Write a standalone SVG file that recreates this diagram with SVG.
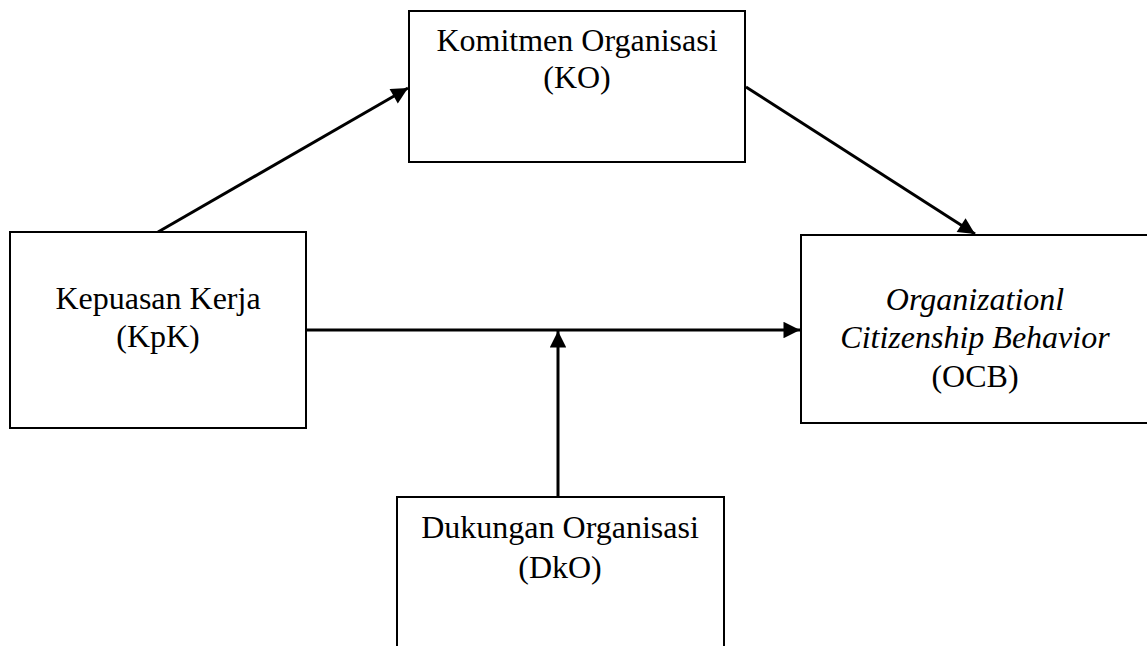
<svg xmlns="http://www.w3.org/2000/svg" width="1147" height="646" viewBox="0 0 1147 646">
<style>
.box{fill:#fff;stroke:#000;stroke-width:2}
.t{font-family:"Liberation Serif","Times New Roman",serif;font-size:32px;fill:#000;text-anchor:middle}
.i{font-style:italic}
.c{stroke:#000;stroke-width:3;fill:none;marker-end:url(#ah)}
</style>
<defs>
<marker id="ah" viewBox="0 0 10 10" refX="10" refY="5" markerWidth="6" markerHeight="5.5" markerUnits="strokeWidth" orient="auto">
<path d="M0,0 L10,5 L0,10 z" fill="#000"/>
</marker>
</defs>
<rect width="1147" height="646" fill="#fff"/>
<g id="connectors">
<line class="c" x1="158" y1="232" x2="408" y2="88"/>
<line class="c" x1="746" y1="87" x2="975" y2="234"/>
<line class="c" x1="306" y1="330" x2="800" y2="330"/>
<line class="c" x1="558" y1="497" x2="558" y2="331"/>
</g>
<g id="node-ko">
<rect class="box" x="409" y="11" width="336" height="151"/>
<text class="t" x="577" y="51">Komitmen Organisasi</text>
<text class="t" x="577" y="88">(KO)</text>
</g>
<g id="node-kpk">
<rect class="box" x="10" y="232" width="296" height="196"/>
<text class="t" x="158" y="309">Kepuasan Kerja</text>
<text class="t" x="158" y="347">(KpK)</text>
</g>
<g id="node-ocb">
<rect class="box" x="801" y="235" width="360" height="188"/>
<text class="t i" x="975" y="310">Organizationl</text>
<text class="t i" x="975" y="348">Citizenship Behavior</text>
<text class="t" x="975" y="387">(OCB)</text>
</g>
<g id="node-dko">
<rect class="box" x="397" y="497" width="327" height="160"/>
<text class="t" x="560" y="538">Dukungan Organisasi</text>
<text class="t" x="560" y="578">(DkO)</text>
</g>
</svg>
